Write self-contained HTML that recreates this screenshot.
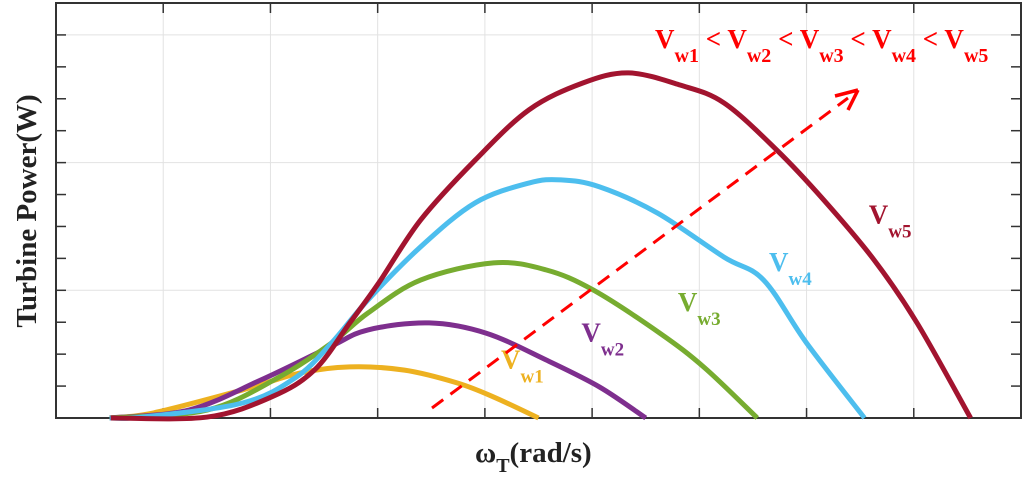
<!DOCTYPE html>
<html><head><meta charset="utf-8"><style>
body{margin:0;background:#fff}
svg text{font-family:"Liberation Serif",serif;font-weight:bold}
</style></head><body>
<svg id="chart" width="1024" height="485" xmlns="http://www.w3.org/2000/svg">
<g id="grid"></g>
<g id="series"></g>
<g id="ann">
<line x1="432" y1="408" x2="848" y2="98" stroke="#f00" stroke-width="3" stroke-dasharray="14,9"/>
<path d="M858,90 L835,96 M858,90 L848,110" stroke="#f00" stroke-width="3.5" fill="none"/>
<text x="655" y="48" fill="#f00" font-size="27">V<tspan font-size="20" dy="14">w1</tspan><tspan dy="-14"> &lt; V</tspan><tspan font-size="20" dy="14">w2</tspan><tspan dy="-14"> &lt; V</tspan><tspan font-size="20" dy="14">w3</tspan><tspan dy="-14"> &lt; V</tspan><tspan font-size="20" dy="14">w4</tspan><tspan dy="-14"> &lt; V</tspan><tspan font-size="20" dy="14">w5</tspan></text>
<text x="475" y="462" font-size="29" fill="#222">ω<tspan font-size="20" dy="10">T</tspan><tspan dy="-10">(rad/s)</tspan></text>
<text transform="translate(36,211) rotate(-90)" text-anchor="middle" font-size="29" fill="#222">Turbine Power(W)</text>
</g>
</svg>
<script>
const X0=56,X1=1021,Y0=418,Y1=3,XMAX=9,YMAX=13;
const xTicks=[0,1,2,3,4,5,6,7,8,9];
const yMajor=[0,4,8,12];
const yMinor=[1,2,3,5,6,7,9,10,11];
const seriesNames=["Vw1","Vw2","Vw3","Vw4","Vw5"];
const colors=["#EDB120","#7E2F8E","#77AC30","#4DBEEE","#A2142F"];
const xVw1=[0.5,0.91,1.74,2.28,2.74,3.25,3.74,4.08,4.5];
const yVw1=[0,0.16,0.88,1.41,1.6,1.5,1.1,0.66,0];
const xVw2=[0.5,1.24,1.91,2.55,2.91,3.48,4.01,4.57,5.07,5.5];
const yVw2=[0,0.25,1.19,2.22,2.76,2.98,2.66,1.82,0.97,0];
const xVw3=[0.5,1.41,2.08,2.57,2.91,3.4,4.08,4.57,5.01,5.63,6.05,6.54];
const yVw3=[0,0.25,1.28,2.35,3.29,4.32,4.86,4.64,4.01,2.66,1.57,0];
const xVw4=[0.5,0.81,1.74,2.24,2.57,2.91,3.4,3.91,4.41,4.71,5.07,5.61,6.23,6.6,7.0,7.54];
const yVw4=[0,0.03,0.47,1.28,2.35,3.7,5.36,6.74,7.36,7.46,7.24,6.42,5.04,4.32,2.35,0];
const xVw5=[0.51,1.41,2.01,2.41,2.74,3.01,3.4,3.91,4.41,4.91,5.34,5.82,6.23,6.72,7.16,7.63,8.03,8.53];
const yVw5=[0,0.03,0.66,1.5,2.98,4.23,6.2,8.08,9.65,10.49,10.81,10.43,9.87,8.4,6.83,4.95,2.98,0];
const labelX=[4.15,4.9,5.8,6.65,7.58];
const labelY=[1.55,2.4,3.35,4.6,6.1];
const xs=v=>X0+(X1-X0)*v/XMAX, ys=v=>Y0-(Y0-Y1)*v/YMAX;
const NS="http://www.w3.org/2000/svg";
function mk(t,a,p){const e=document.createElementNS(NS,t);for(const k in a)e.setAttribute(k,a[k]);p.appendChild(e);return e;}
const g=document.getElementById('grid');
xTicks.forEach(t=>{if(t>0&&t<XMAX){const l=mk('line',{x1:xs(t),x2:xs(t),y1:Y1,y2:Y0,stroke:'#e2e2e2','stroke-width':1},g);


const a=mk('line',{x1:xs(t),x2:xs(t),y1:Y0,y2:Y0-10,stroke:'#333','stroke-width':1.5},g);


const b=mk('line',{x1:xs(t),x2:xs(t),y1:Y1,y2:Y1+10,stroke:'#333','stroke-width':1.5},g);

}});
yMajor.forEach(t=>{if(t>0){const l=mk('line',{x1:X0,x2:X1,y1:ys(t),y2:ys(t),stroke:'#e2e2e2','stroke-width':1},g);

}});
yMajor.concat(yMinor).forEach(t=>{[[X0,X0+10],[X1,X1-10]].forEach(p=>{const a=mk('line',{x1:p[0],x2:p[1],y1:ys(t),y2:ys(t),stroke:'#333','stroke-width':1.5},g);

});});
const box=mk('rect',{x:X0,y:Y1,width:X1-X0,height:Y0-Y1,fill:'none',stroke:'#333','stroke-width':2},g);


const sg=document.getElementById('series');
const data=[[xVw1,yVw1],[xVw2,yVw2],[xVw3,yVw3],[xVw4,yVw4],[xVw5,yVw5]];
function smooth(P){let d=`M${P[0][0]},${P[0][1]}`;for(let i=0;i<P.length-1;i++){const p0=P[Math.max(i-1,0)],p1=P[i],p2=P[i+1],p3=P[Math.min(i+2,P.length-1)];
d+=` C${p1[0]+(p2[0]-p0[0])/6},${p1[1]+(p2[1]-p0[1])/6} ${p2[0]-(p3[0]-p1[0])/6},${p2[1]-(p3[1]-p1[1])/6} ${p2[0]},${p2[1]}`;}return d;}
data.forEach((s,i)=>{const P=s[0].map((x,j)=>[xs(x),ys(s[1][j])]);
const p=mk('path',{d:smooth(P),fill:'none',stroke:colors[i],'stroke-width':5},sg);


const t=mk('text',{x:xs(labelX[i]),y:ys(labelY[i]),fill:colors[i],'font-size':27},sg);


t.innerHTML='V<tspan font-size="19" dy="14">w'+(i+1)+'</tspan>';});
</script>
</body></html>
